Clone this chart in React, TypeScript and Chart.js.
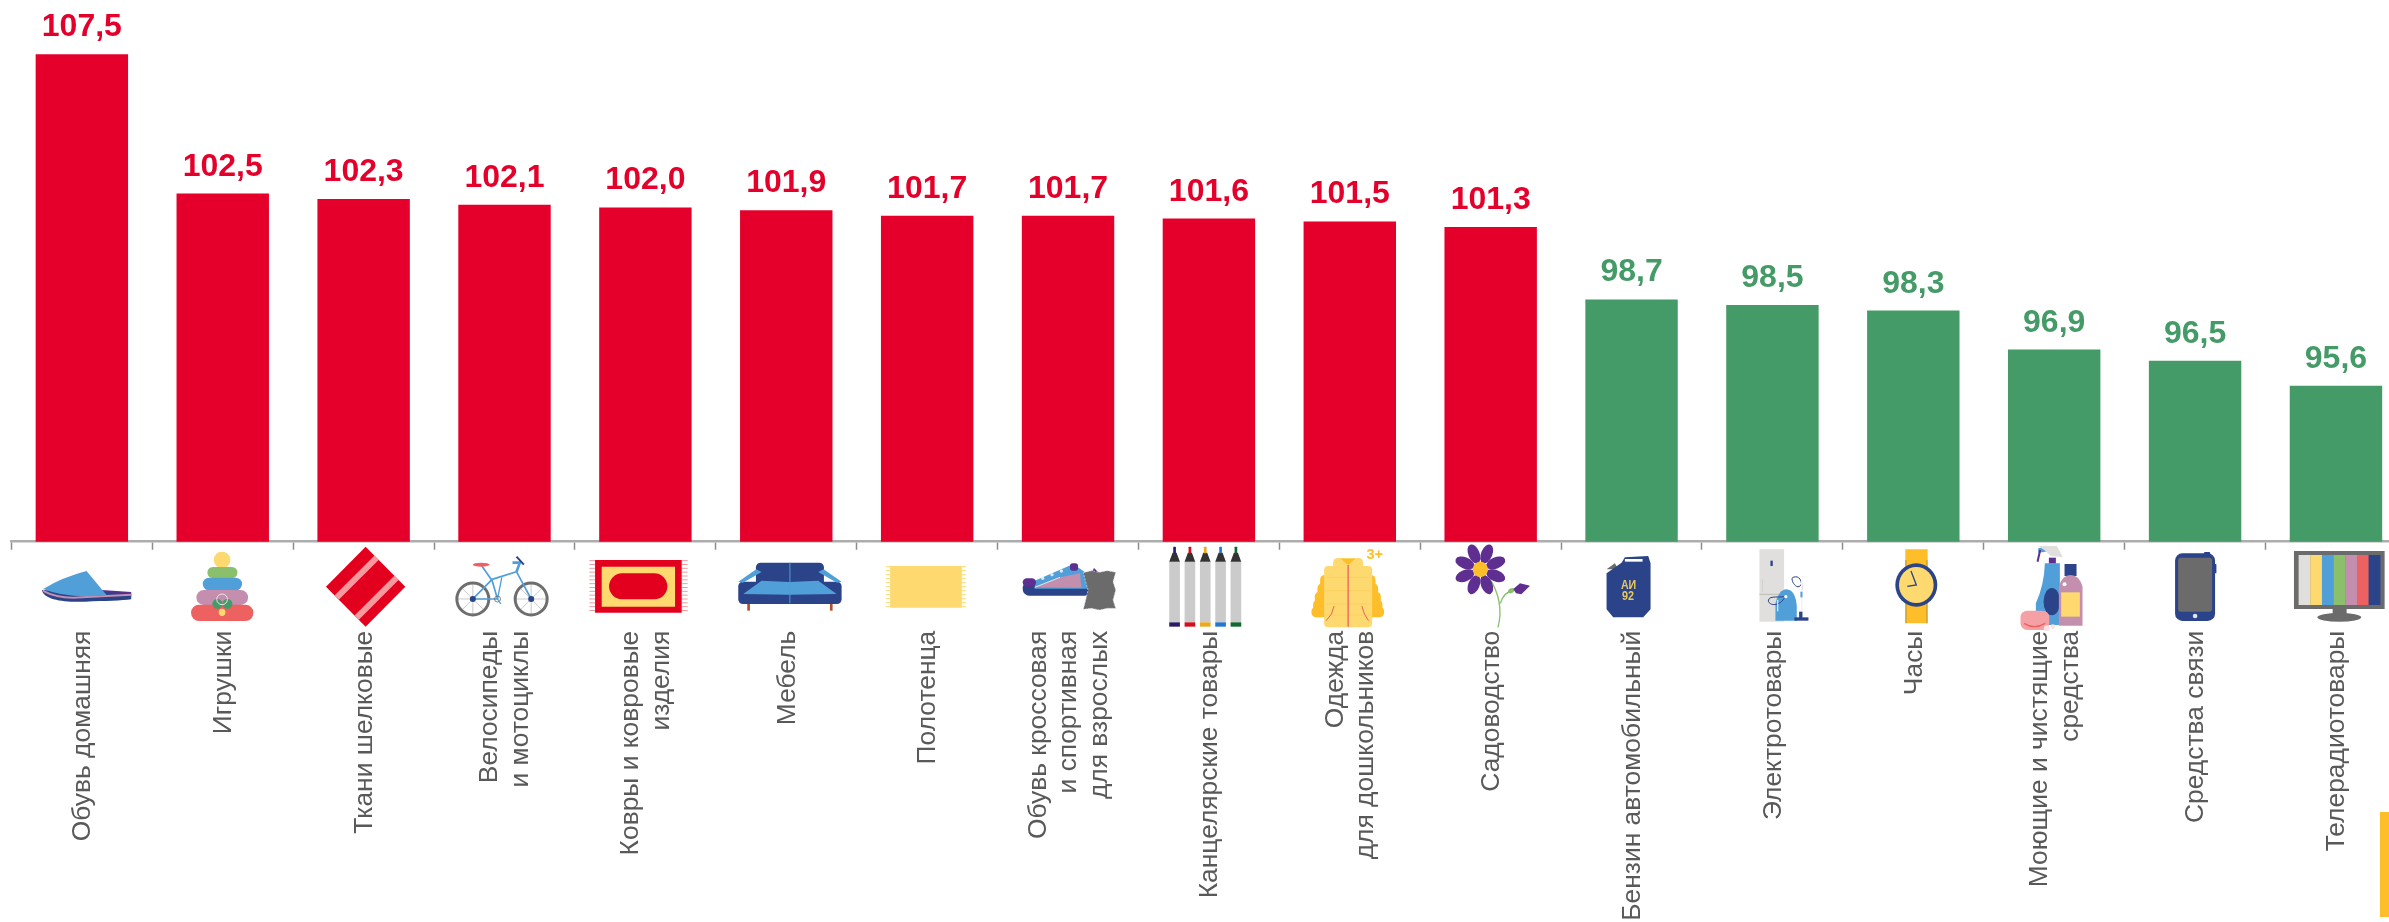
import React, { useEffect, useRef } from "react";
import { Chart, registerables } from "chart.js";

Chart.register(...registerables);

const categories: (string | string[])[] = [
  "Обувь домашняя",
  "Игрушки",
  "Ткани шелковые",
  ["Велосипеды", "и мотоциклы"],
  ["Ковры и ковровые", "изделия"],
  "Мебель",
  "Полотенца",
  ["Обувь кроссовая", "и спортивная", "для взрослых"],
  "Канцелярские товары",
  ["Одежда", "для дошкольников"],
  "Садоводство",
  "Бензин автомобильный",
  "Электротовары",
  "Часы",
  ["Моющие и чистящие", "средства"],
  "Средства связи",
  "Телерадиотовары",
];
const values = [107.5, 102.5, 102.3, 102.1, 102.0, 101.9, 101.7, 101.7, 101.6, 101.5, 101.3, 98.7, 98.5, 98.3, 96.9, 96.5, 95.6];

const RED = "#E4002B";
const GREEN = "#459B67";
const barColors = values.map((v) => (v > 100 ? RED : GREEN));

const NAVY = "#2B4389";
const BLUE = "#519FD8";
const YEL = "#FDD96F";
const ORG = "#FDBE2A";
const MAUVE = "#C48FAE";
const CORAL = "#EE6161";
const LGREEN = "#8AC06C";
const GREY = "#6B6B6B";
const LGREY = "#E0DFDD";
const PURPLE = "#5E2E91";
const ICON_RED = "#E3001F";

type C = CanvasRenderingContext2D;

function poly(c: C, pts: number[][], fill: string) {
  c.fillStyle = fill;
  c.beginPath();
  pts.forEach((p, i) => (i ? c.lineTo(p[0], p[1]) : c.moveTo(p[0], p[1])));
  c.closePath();
  c.fill();
}
function rr(c: C, x0: number, y0: number, x1: number, y1: number, r: number, fill: string) {
  c.fillStyle = fill;
  c.beginPath();
  c.roundRect(x0, y0, x1 - x0, y1 - y0, r);
  c.fill();
}
function ell(c: C, x: number, y: number, rx: number, ry: number, fill: string, rot = 0) {
  c.fillStyle = fill;
  c.beginPath();
  c.ellipse(x, y, rx, ry, rot, 0, Math.PI * 2);
  c.fill();
}
function ln(c: C, pts: number[][], color: string, w: number) {
  c.strokeStyle = color;
  c.lineWidth = w;
  c.beginPath();
  pts.forEach((p, i) => (i ? c.lineTo(p[0], p[1]) : c.moveTo(p[0], p[1])));
  c.stroke();
}

// Pictograms: coordinates are local to each icon (3x scale, x relative to bar centre).
const icons: ((c: C) => void)[] = [
  // slipper
  (c) => {
    poly(c, [[60, 150], [148, 156], [148, 172], [60, 172]], PURPLE);
    c.fillStyle = NAVY;
    c.beginPath();
    c.moveTo(-120, 150);
    c.bezierCurveTo(-115, 180, -50, 188, 10, 185);
    c.bezierCurveTo(70, 183, 120, 182, 148, 178);
    c.lineTo(148, 160);
    c.closePath();
    c.fill();
    c.strokeStyle = MAUVE;
    c.lineWidth = 6;
    c.beginPath();
    c.moveTo(-118, 152);
    c.quadraticCurveTo(-70, 178, 0, 172);
    c.lineTo(148, 164);
    c.stroke();
    c.fillStyle = BLUE;
    c.beginPath();
    c.moveTo(-116, 147);
    c.quadraticCurveTo(-60, 112, 14, 93);
    c.lineTo(74, 165);
    c.quadraticCurveTo(-40, 178, -116, 147);
    c.fill();
  },
  // pyramid toy
  (c) => {
    ell(c, -2, 60, 25, 25, YEL);
    rr(c, -46, 81, 44, 114, 16, LGREEN);
    rr(c, -60, 113, 58, 151, 19, BLUE);
    rr(c, -79, 150, 76, 195, 22, MAUVE);
    rr(c, -95, 194, 92, 243, 24, CORAL);
    ell(c, -16, 192, 15, 15, GREEN);
    ell(c, 14, 192, 15, 15, GREEN);
    ell(c, -2, 217, 10, 11, YEL);
    c.strokeStyle = "#F3E3EA";
    c.lineWidth = 3;
    c.beginPath();
    c.arc(-2, 178, 16, 0, Math.PI * 2);
    c.stroke();
  },
  // silk
  (c) => {
    c.save();
    c.beginPath();
    c.moveTo(6, 20);
    c.lineTo(125, 140);
    c.lineTo(6, 260);
    c.lineTo(-113, 140);
    c.closePath();
    c.fillStyle = ICON_RED;
    c.fill();
    c.clip();
    ln(c, [[-96, 188], [64, 28]], "#F49A9F", 18);
    ln(c, [[-38, 250], [122, 90]], "#F49A9F", 18);
    c.restore();
  },
  // bicycle
  (c) => {
    [-95, 80].forEach((x) => {
      for (let a = 0; a < 8; a++) {
        const t = (a * Math.PI) / 4;
        ln(c, [[x, 177], [x + 46 * Math.cos(t), 177 + 46 * Math.sin(t)]], "#BFBFBF", 2.5);
      }
      c.strokeStyle = "#6E6E6E";
      c.lineWidth = 9;
      c.beginPath();
      c.arc(x, 177, 48, 0, Math.PI * 2);
      c.stroke();
    });
    ln(c, [[-68, 78], [-37, 122], [-21, 177], [-95, 177], [-37, 118], [36, 95], [80, 177]], BLUE, 5);
    ln(c, [[-8, 112], [-21, 177]], BLUE, 4);
    ln(c, [[24, 68], [46, 68], [36, 95]], BLUE, 8);
    ln(c, [[36, 50], [58, 74]], NAVY, 6);
    ell(c, -70, 74, 25, 6, CORAL);
    ell(c, -95, 177, 9, 9, NAVY);
    ell(c, 80, 177, 9, 9, NAVY);
    c.strokeStyle = GREY;
    c.lineWidth = 2.5;
    c.beginPath();
    c.arc(-21, 177, 9, 0, Math.PI * 2);
    c.stroke();
    ln(c, [[-21, 177], [-11, 192]], BLUE, 4);
  },
  // rug
  (c) => {
    for (let y = 62; y < 218; y += 11.5) {
      ln(c, [[-168, y], [-151, y]], "#F49A9F", 3);
      ln(c, [[109, y], [127, y]], "#F49A9F", 3);
    }
    rr(c, -151, 60, 109, 218, 0, ICON_RED);
    rr(c, -131, 80, 89, 200, 0, YEL);
    rr(c, -109, 100, 66, 178, 39, ICON_RED);
  },
  // sofa
  (c) => {
    rr(c, -117, 192, -109, 212, 0, "#B0502A");
    rr(c, 131, 192, 139, 212, 0, "#B0502A");
    rr(c, -91, 68, 113, 140, 14, NAVY);
    rr(c, -144, 125, 166, 192, 14, NAVY);
    poly(c, [[-144, 125], [-90, 88], [-74, 96], [-130, 128]], BLUE);
    poly(c, [[166, 125], [112, 88], [96, 96], [152, 128]], BLUE);
    poly(c, [[-129, 162], [-74, 122], [9, 126], [96, 122], [151, 162], [9, 164]], BLUE);
    ln(c, [[11, 68], [11, 190]], BLUE, 3);
  },
  // towel
  (c) => {
    for (let y = 80; y < 205; y += 12) {
      ln(c, [[-124, y], [-111, y]], YEL, 3);
      ln(c, [[104, y], [116, y]], YEL, 3);
    }
    rr(c, -111, 78, 104, 203, 0, YEL);
  },
  // sneaker + leather
  (c) => {
    rr(c, -136, 125, 70, 167, 20, NAVY);
    poly(c, [[-100, 122], [16, 72], [70, 110], [70, 146], [-100, 146]], BLUE);
    poly(c, [[-100, 142], [-24, 112], [36, 100], [40, 143]], MAUVE);
    ln(c, [[-100, 142], [-24, 112]], "#DCE9F3", 3);
    rr(c, -136, 115, -96, 140, 14, PURPLE);
    rr(c, 6, 70, 30, 92, 8, PURPLE);
    poly(c, [[72, 96], [78, 84], [90, 96]], PURPLE);
    [[-76, 115], [-48, 104], [-20, 93]].forEach((p) => ell(c, p[0], p[1], 5, 5, "#DCE9F3"));
    const hide = [[46, 98], [70, 92], [94, 97], [118, 92], [143, 97], [135, 125], [143, 150], [135, 180], [143, 205], [118, 205], [94, 210], [70, 205], [46, 208], [53, 180], [60, 150], [53, 125]];
    poly(c, hide, GREY);
    c.save();
    c.setLineDash([6, 4]);
    c.strokeStyle = "#D8D8D8";
    c.lineWidth = 2;
    c.beginPath();
    hide.forEach((p, i) => (i ? c.lineTo(p[0], p[1]) : c.moveTo(p[0], p[1])));
    c.closePath();
    c.stroke();
    c.restore();
  },
  // markers
  (c) => {
    const cols = ["#2D1A66", "#D30F1A", "#EAAA1C", "#2178CE", "#116A2D"];
    cols.forEach((col, k) => {
      const x = -103 + k * 46;
      rr(c, x - 16, 65, x + 16, 247, 0, "#CBCBCB");
      rr(c, x - 16, 247, x + 16, 260, 0, col);
      poly(c, [[x - 16, 65], [x - 6, 38], [x + 6, 38], [x + 16, 65]], "#333333");
      rr(c, x - 4, 20, x + 4, 40, 2, col);
    });
  },
  // jacket
  (c) => {
    [[105, 145, 84], [130, 170, 92], [155, 195, 100], [180, 215, 105], [200, 232, 110]].forEach((r) => {
      rr(c, -5 - r[2], r[0], -5 + r[2] - 2, r[1], 14, ORG);
    });
    rr(c, -77, 78, 67, 262, 12, YEL);
    [112, 152, 192, 225].forEach((y) => ln(c, [[-70, y], [60, y]], "#FCCF55", 2));
    rr(c, -50, 54, 40, 90, 14, YEL);
    poly(c, [[-27, 56], [17, 56], [-5, 75]], ORG);
    ln(c, [[-5, 75], [-5, 260]], CORAL, 4);
    ln(c, [[-47, 198], [-55, 222], [-71, 242]], CORAL, 3);
    ln(c, [[36, 198], [44, 222], [56, 242]], CORAL, 3);
    c.fillStyle = ORG;
    c.font = "bold 44px 'Liberation Sans'";
    c.textAlign = "left";
    c.textBaseline = "alphabetic";
    c.fillText("3+", 50, 58, 58);
  },
  // flower
  (c) => {
    c.strokeStyle = LGREEN;
    c.lineWidth = 4;
    c.beginPath();
    c.moveTo(-5, 112);
    c.quadraticCurveTo(42, 185, 22, 262);
    c.moveTo(29, 190);
    c.quadraticCurveTo(40, 155, 70, 150);
    c.stroke();
    ell(c, 62, 152, 10, 7, LGREEN, -0.5);
    poly(c, [[68, 147], [88, 130], [118, 137], [92, 163], [76, 160]], PURPLE);
    for (let a = 0; a < 8; a++) {
      const t = (a * Math.PI) / 4 + Math.PI / 8;
      ell(c, -31 + 50 * Math.cos(t), 88 + 50 * Math.sin(t), 30, 17, PURPLE, t);
    }
    ell(c, -31, 88, 23, 23, ORG);
  },
  // fuel can
  (c) => {
    poly(c, [[-75, 88], [-50, 70], [-40, 88]], GREY);
    poly(c, [[-75, 100], [-30, 68], [-20, 52], [50, 48], [57, 70], [57, 208], [35, 232], [-55, 232], [-75, 208]], NAVY);
    rr(c, -20, 57, 33, 65, 0, "#FFFFFF");
    c.fillStyle = "#E8C860";
    c.font = "bold 36px 'Liberation Sans'";
    c.textAlign = "center";
    c.textBaseline = "alphabetic";
    c.fillText("АИ", -9, 146, 46);
    c.fillText("92", -11, 181, 36);
  },
  // fridge + vacuum
  (c) => {
    rr(c, -39, 28, 35, 245, 0, LGREY);
    rr(c, -6, 62, 1, 78, 0, NAVY);
    ln(c, [[-39, 163], [35, 163]], "#BDBDBD", 3);
    ln(c, [[-30, 118], [-30, 155]], "#CFCFCF", 3);
    c.fillStyle = BLUE;
    c.beginPath();
    c.moveTo(9, 242);
    c.lineTo(9, 190);
    c.quadraticCurveTo(20, 148, 42, 148);
    c.quadraticCurveTo(70, 150, 73, 200);
    c.lineTo(73, 242);
    c.closePath();
    c.fill();
    c.strokeStyle = NAVY;
    c.lineWidth = 3;
    c.beginPath();
    c.moveTo(38, 170);
    c.bezierCurveTo(20, 205, -15, 195, -12, 180);
    c.bezierCurveTo(-8, 165, 25, 175, 40, 168);
    c.moveTo(88, 130);
    c.bezierCurveTo(75, 160, 50, 115, 62, 112);
    c.bezierCurveTo(80, 105, 90, 120, 88, 150);
    c.stroke();
    ln(c, [[88, 120], [88, 230]], "#F2F2F2", 5);
    rr(c, 84, 155, 90, 172, 0, BLUE);
    rr(c, 80, 215, 90, 235, 0, NAVY);
    rr(c, 66, 232, 108, 242, 0, NAVY);
    ln(c, [[16, 180], [16, 214]], "#FFFFFF", 3);
    ell(c, 40, 170, 5, 5, "#FFFFFF");
  },
  // watch
  (c) => {
    rr(c, -24, 28, 43, 250, 0, ORG);
    ln(c, [[-22, 60], [-22, 250]], "#8C7A40", 2);
    ln(c, [[41, 60], [41, 250]], "#8C7A40", 2);
    ell(c, 9, 135, 63, 65, NAVY);
    ell(c, 9, 135, 52, 54, YEL);
    ln(c, [[-7, 93], [9, 135], [-18, 139]], NAVY, 4);
  },
  // detergents
  (c) => {
    poly(c, [[-48, 25], [-25, 20], [-25, 35], [-48, 38]], BLUE);
    poly(c, [[-48, 18], [8, 18], [26, 52], [-10, 48], [-30, 30]], LGREY);
    ln(c, [[-42, 30], [-50, 65]], PURPLE, 6);
    rr(c, -16, 53, 5, 71, 0, PURPLE);
    c.fillStyle = BLUE;
    c.beginPath();
    c.moveTo(-28, 70);
    c.lineTo(17, 70);
    c.lineTo(17, 255);
    c.lineTo(-55, 255);
    c.lineTo(-55, 190);
    c.quadraticCurveTo(-30, 135, -28, 70);
    c.fill();
    ell(c, -7, 185, 25, 41, NAVY);
    rr(c, 31, 72, 67, 108, 0, NAVY);
    c.fillStyle = MAUVE;
    c.beginPath();
    c.moveTo(14, 140);
    c.quadraticCurveTo(24, 105, 49, 105);
    c.quadraticCurveTo(75, 105, 85, 140);
    c.lineTo(85, 257);
    c.lineTo(14, 257);
    c.closePath();
    c.fill();
    rr(c, 21, 157, 77, 230, 0, YEL);
    ell(c, 31, 133, 6, 6, "#FFFFFF");
    rr(c, -101, 212, -15, 270, 20, "#F5A0A5");
    c.strokeStyle = CORAL;
    c.lineWidth = 4;
    c.beginPath();
    c.moveTo(-90, 250);
    c.quadraticCurveTo(-60, 270, -27, 250);
    c.stroke();
    ell(c, -22, 265, 9, 9, "#FBE3E4");
    ell(c, -4, 260, 7, 7, "#FBE3E4");
  },
  // phone
  (c) => {
    rr(c, 27, 36, 45, 45, 2, NAVY);
    rr(c, 58, 72, 64, 100, 2, NAVY);
    rr(c, -60, 40, 60, 243, 22, NAVY);
    rr(c, -51, 53, 51, 215, 8, GREY);
    ell(c, 0, 228, 7, 7, "#DDE3EF");
  },
  // TV
  (c) => {
    rr(c, -126, 33, 146, 207, 0, GREY);
    [LGREY, YEL, BLUE, LGREEN, MAUVE, CORAL, NAVY].forEach((col, k) => {
      rr(c, -112 + k * 35, 45, -112 + (k + 1) * 35 + 0.5, 195, 0, col);
    });
    rr(c, -10, 207, 32, 226, 0, GREY);
    ell(c, 10, 232, 66, 13, GREY);
  },
];

const pictograms = {
  id: "pictograms",
  afterDraw(chart: any) {
    const c: C = chart.ctx;
    const xs = chart.scales.x;
    icons.forEach((draw, i) => {
      c.save();
      c.translate(xs.getPixelForValue(i), 540);
      c.scale(1 / 3, 1 / 3);
      draw(c);
      c.restore();
    });
  },
};

const valueLabels = {
  id: "valueLabels",
  afterDatasetsDraw(chart: any) {
    const c: C = chart.ctx;
    const meta = chart.getDatasetMeta(0);
    c.save();
    c.font = "bold 32px 'Liberation Sans'";
    c.textAlign = "center";
    c.textBaseline = "alphabetic";
    meta.data.forEach((bar: any, i: number) => {
      c.fillStyle = barColors[i];
      c.fillText(values[i].toFixed(1).replace(".", ","), bar.x, bar.y - 18);
    });
    c.restore();
  },
};

// Chart.js puts the first line of a rotated multi-line label on the tick;
// the reference centres the whole block on it.
const centreRotatedLabels = {
  id: "centreRotatedLabels",
  beforeDraw(chart: any) {
    const items = chart.scales.x.getLabelItems();
    items.forEach((item: any) => {
      if (item._centred) return;
      item._centred = true;
      const n = Array.isArray(item.label) ? item.label.length : 1;
      item.options.translation[0] += 1 - ((n - 1) * item.font.lineHeight) / 2;
    });
  },
};

export default function App() {
  const ref = useRef<HTMLCanvasElement>(null);
  useEffect(() => {
    const chart = new Chart(ref.current!, {
      type: "bar",
      data: {
        labels: categories as any,
        datasets: [
          {
            data: values,
            backgroundColor: barColors,
            borderWidth: 0,
            categoryPercentage: 1,
            barPercentage: 0.656,
          },
        ],
      },
      options: {
        responsive: false,
        animation: false,
        layout: { padding: { left: 11.42, right: 13.6, top: 12.5, bottom: 0 } },
        plugins: { legend: { display: false }, tooltip: { enabled: false }, title: { display: false } },
        scales: {
          y: { display: false, min: 90, max: 109 },
          x: {
            offset: true,
            afterFit: (s: any) => {
              s.height = 380.3;
              s.paddingLeft = 0;
              s.paddingRight = 0;
            },
            border: { display: true, color: "#ADADAD", width: 2.5 },
            grid: { display: true, drawOnChartArea: false, drawTicks: true, tickLength: 8, tickColor: "#8C8C8C", tickWidth: 1.5 },
            ticks: {
              autoSkip: false,
              maxRotation: 90,
              minRotation: 90,
              padding: 81,
              color: "#595959",
              font: { family: "'Liberation Sans'", size: 26.4, lineHeight: 1.16 },
            },
          },
        },
      },
      plugins: [centreRotatedLabels, valueLabels, pictograms],
    });
    return () => chart.destroy();
  }, []);
  return (
    <div style={{ position: "absolute", left: 0, top: 0, width: 2389, height: 922, overflow: "hidden", background: "#fff" }}>
      <canvas ref={ref} width={2420} height={922} style={{ display: "block" }} />
      <div style={{ position: "absolute", left: 2380, top: 812, width: 9, height: 105, background: "#FDBE2A" }} />
    </div>
  );
}
